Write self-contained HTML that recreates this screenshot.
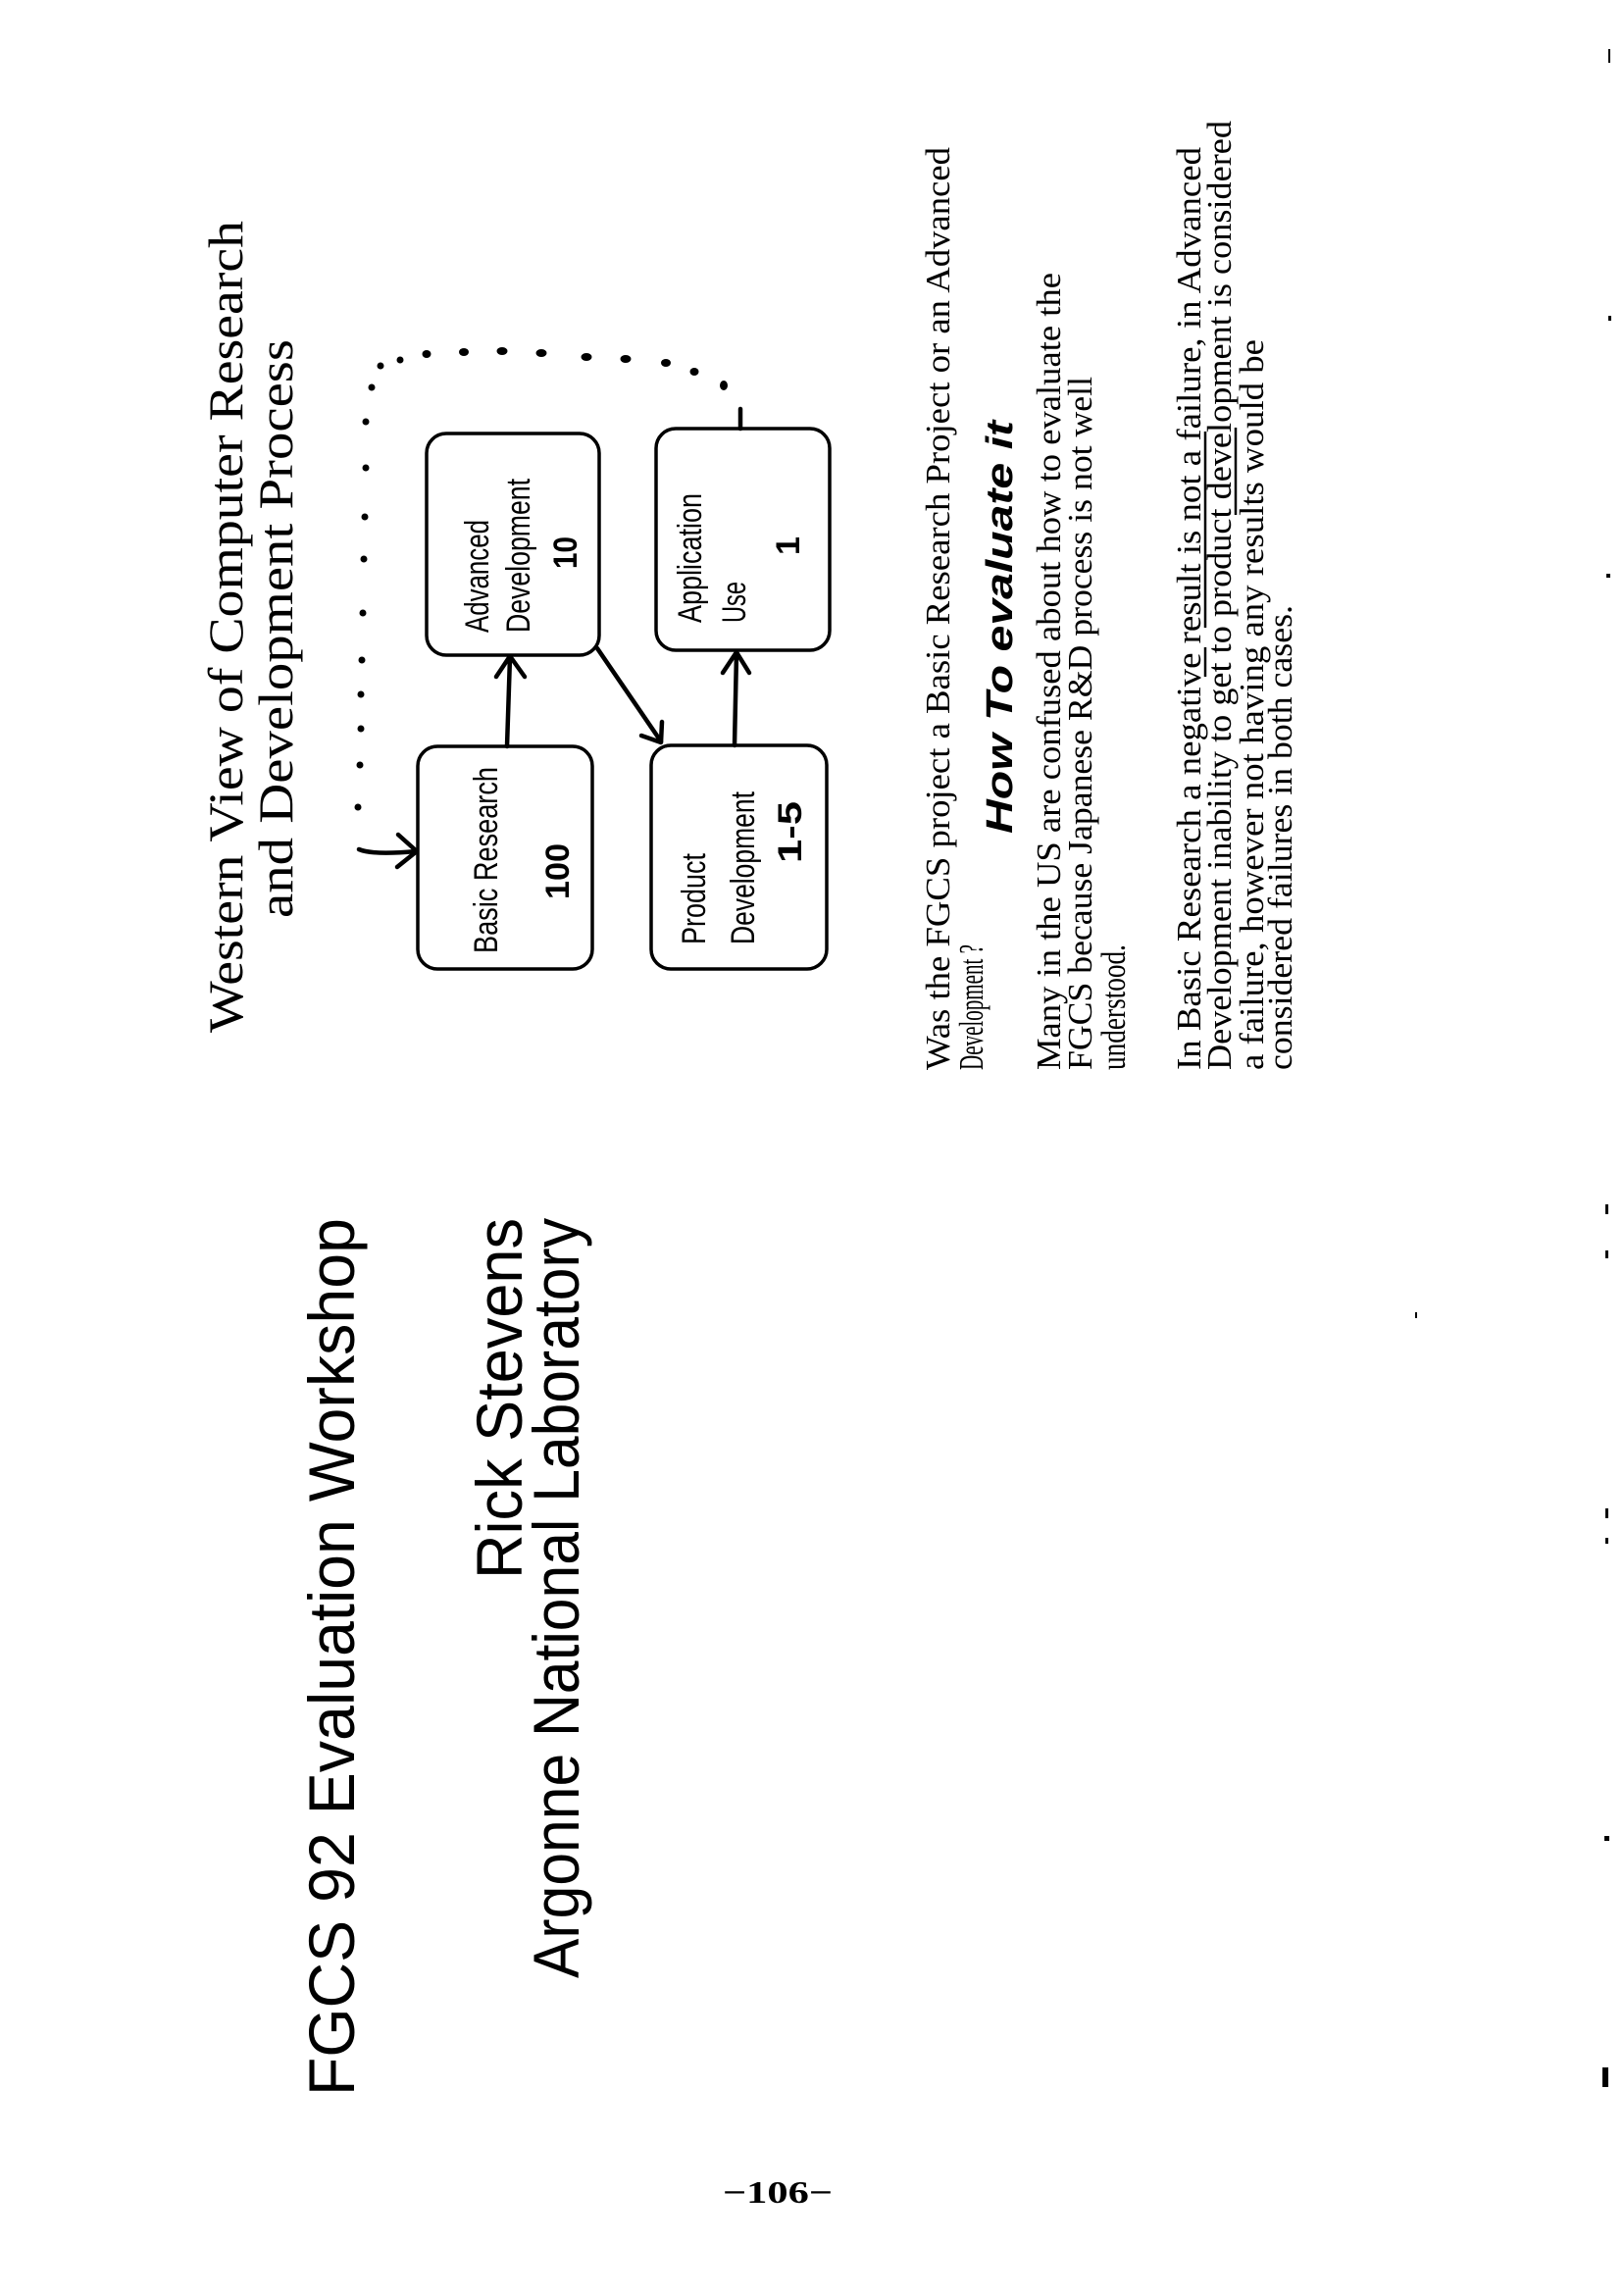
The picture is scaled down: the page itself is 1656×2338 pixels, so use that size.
<!DOCTYPE html>
<html><head><meta charset="utf-8"><style>
html,body{margin:0;padding:0;background:#fff;}
svg{display:block;}
</style></head><body>
<svg width="1656" height="2338" viewBox="0 0 1656 2338" xmlns="http://www.w3.org/2000/svg">
<rect width="1656" height="2338" fill="#fff"/>
<g font-family="Liberation Serif, serif" fill="#000">
<text transform="translate(247,1053) rotate(-90)" font-size="50" textLength="828" lengthAdjust="spacingAndGlyphs">Western View of Computer Research</text>
<text transform="translate(298,936) rotate(-90)" font-size="50" textLength="590" lengthAdjust="spacingAndGlyphs">and Development Process</text>
</g>
<g fill="none" stroke="#000" stroke-width="3.5">
<rect x="426" y="761" width="178" height="227" rx="20"/>
<rect x="664" y="760" width="179" height="228" rx="20"/>
<rect x="435" y="442" width="176" height="226" rx="20"/>
<rect x="669" y="437" width="177" height="226" rx="20"/>
</g>
<g fill="none" stroke="#000" stroke-width="4.5" stroke-linecap="round" stroke-linejoin="round">
<path d="M517 761 L520 670"/>
<polyline points="506,690 520,669 535,690"/>
<path d="M609 661 L674 756"/>
<polyline points="654,750 674,757 675,736"/>
<path d="M749 760 L751 666"/>
<polyline points="737,686 751,665 764,686"/>
<path d="M755 437 L755 417"/>
<path d="M366 866 Q380 872 424 868"/>
<polyline points="406,851 425,868 405,884"/>
</g>
<g fill="#000">
<ellipse cx="738" cy="393" rx="4" ry="5"/><ellipse cx="708" cy="379" rx="4.5" ry="4"/><ellipse cx="679" cy="370" rx="5" ry="4"/>
<ellipse cx="638" cy="366" rx="5.5" ry="4"/><ellipse cx="598" cy="364" rx="5.5" ry="4"/><ellipse cx="552" cy="360" rx="5.5" ry="4"/>
<ellipse cx="512" cy="358" rx="5.5" ry="4"/><ellipse cx="473" cy="359" rx="5" ry="4"/><ellipse cx="435" cy="361" rx="4.5" ry="4"/>
<circle cx="408" cy="367" r="3.5"/><circle cx="388" cy="373" r="3.5"/><circle cx="379" cy="395" r="3.5"/>
<circle cx="373" cy="430" r="3.5"/><circle cx="373" cy="477" r="3.5"/><circle cx="372" cy="527" r="3.5"/>
<circle cx="371" cy="570" r="3.5"/><circle cx="370" cy="625" r="3.5"/><circle cx="369" cy="673" r="3.5"/>
<circle cx="368" cy="708" r="3.5"/><circle cx="368" cy="743" r="3.5"/><circle cx="367" cy="780" r="3.5"/>
<circle cx="365" cy="823" r="3.5"/>
</g>
<g font-family="Liberation Sans, sans-serif" fill="#000">
<text transform="translate(507,972) rotate(-90)" font-size="34" textLength="190" lengthAdjust="spacingAndGlyphs">Basic Research</text>
<text transform="translate(580,917) rotate(-90)" font-size="34" font-weight="bold" textLength="57" lengthAdjust="spacingAndGlyphs">100</text>
<text transform="translate(498,645) rotate(-90)" font-size="34" textLength="115" lengthAdjust="spacingAndGlyphs">Advanced</text>
<text transform="translate(540,645) rotate(-90)" font-size="34" textLength="157" lengthAdjust="spacingAndGlyphs">Development</text>
<text transform="translate(588,580) rotate(-90)" font-size="34" font-weight="bold" textLength="33" lengthAdjust="spacingAndGlyphs">10</text>
<text transform="translate(715,635) rotate(-90)" font-size="34" textLength="132" lengthAdjust="spacingAndGlyphs">Application</text>
<text transform="translate(760,635) rotate(-90)" font-size="34" textLength="42" lengthAdjust="spacingAndGlyphs">Use</text>
<text transform="translate(815,566) rotate(-90)" font-size="34" font-weight="bold">1</text>
<text transform="translate(719,963) rotate(-90)" font-size="34" textLength="93" lengthAdjust="spacingAndGlyphs">Product</text>
<text transform="translate(769,963) rotate(-90)" font-size="34" textLength="156" lengthAdjust="spacingAndGlyphs">Development</text>
<text transform="translate(817,880) rotate(-90)" font-size="34" font-weight="bold" textLength="63" lengthAdjust="spacingAndGlyphs">1-5</text>
</g>
<g font-family="Liberation Serif, serif" fill="#000" font-size="35">
<text transform="translate(968,1091) rotate(-90)" textLength="941" lengthAdjust="spacingAndGlyphs">Was the FGCS project a Basic Research Project or an Advanced</text>
<text transform="translate(1002,1091) rotate(-90)" textLength="128" lengthAdjust="spacingAndGlyphs">Development ?</text>
<text transform="translate(1081,1091) rotate(-90)" textLength="813" lengthAdjust="spacingAndGlyphs">Many in the US are confused about how to evaluate the</text>
<text transform="translate(1113,1091) rotate(-90)" textLength="707" lengthAdjust="spacingAndGlyphs">FGCS because Japanese R&amp;D process is not well</text>
<text transform="translate(1147,1091) rotate(-90)" textLength="128" lengthAdjust="spacingAndGlyphs">understood.</text>
<text transform="translate(1224,1091) rotate(-90)" textLength="941" lengthAdjust="spacingAndGlyphs">In Basic Research a negative result is not a failure, in Advanced</text>
<text transform="translate(1255,1091) rotate(-90)" textLength="968" lengthAdjust="spacingAndGlyphs">Development inability to get to product development is considered</text>
<text transform="translate(1288,1091) rotate(-90)" textLength="745" lengthAdjust="spacingAndGlyphs">a failure, however not having any results  would be</text>
<text transform="translate(1317,1091) rotate(-90)" textLength="474" lengthAdjust="spacingAndGlyphs">considered failures in both cases.</text>
</g>
<text transform="translate(1032,850) rotate(-90)" font-family="Liberation Sans, sans-serif" font-weight="bold" font-style="italic" font-size="38" textLength="421" lengthAdjust="spacingAndGlyphs">How To evaluate it</text>
<g stroke="#000" stroke-width="2.5">
<line x1="1229" y1="440" x2="1229" y2="640"/>
<line x1="1229" y1="660" x2="1229" y2="690"/>
<line x1="1260" y1="436" x2="1260" y2="525"/>
</g>
<g font-family="Liberation Sans, sans-serif" fill="#000" font-size="66">
<text transform="translate(361,2137) rotate(-90)" textLength="895" lengthAdjust="spacingAndGlyphs">FGCS  92  Evaluation Workshop</text>
<text transform="translate(532,1610) rotate(-90)" textLength="368" lengthAdjust="spacingAndGlyphs">Rick Stevens</text>
<text transform="translate(590,2017) rotate(-90)" textLength="775" lengthAdjust="spacingAndGlyphs">Argonne National Laboratory</text>
</g>
<text x="793" y="2246" text-anchor="middle" font-family="Liberation Serif, serif" font-weight="bold" font-size="32" textLength="112" lengthAdjust="spacingAndGlyphs">−106−</text>
<g fill="#000">
<rect x="1640" y="50" width="2" height="14"/>
<rect x="1640" y="322" width="3" height="5"/>
<rect x="1638" y="585" width="4" height="4"/>
<rect x="1637" y="1228" width="3" height="10"/>
<rect x="1637" y="1275" width="3" height="8"/>
<rect x="1637" y="1538" width="3" height="10"/>
<rect x="1637" y="1568" width="3" height="6"/>
<rect x="1636" y="1872" width="5" height="5"/>
<rect x="1634" y="2108" width="6" height="20"/>
<rect x="1443" y="1338" width="2" height="6"/>
</g>
</svg>
</body></html>
